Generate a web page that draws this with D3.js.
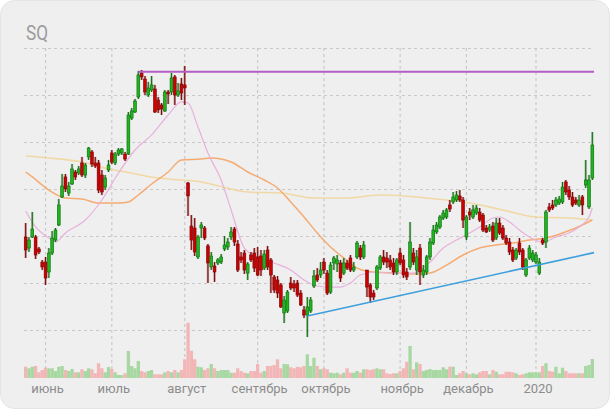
<!DOCTYPE html>
<html><head><meta charset="utf-8">
<script src="https://cdn.jsdelivr.net/npm/d3@7"></script>
<style>html,body{margin:0;padding:0;background:#fff;}svg{display:block;}</style>
</head><body>
<svg id="c" width="611" height="410"></svg>
<script>
const ticker = "SQ";
const tradingDays = {
 "2019-05":[23,24,28,29,30,31],
 "2019-06":[3,4,5,6,7,10,11,12,13,14,17,18,19,20,21,24,25,26,27,28],
 "2019-07":[1,2,3,5,8,9,10,11,12,15,16,17,18,19,22,23,24,25,26,29,30,31],
 "2019-08":[1,2,5,6,7,8,9,12,13,14,15,16,19,20,21,22,23,26,27,28,29,30],
 "2019-09":[3,4,5,6,9,10,11,12,13,16,17,18,19,20,23,24,25,26,27,30],
 "2019-10":[1,2,3,4,7,8,9,10,11,14,15,16,17,18,21,22,23,24,25,28,29,30,31],
 "2019-11":[1,4,5,6,7,8,11,12,13,14,15,18,19,20,21,22,25,26,27,29],
 "2019-12":[2,3,4,5,6,9,10,11,12,13,16,17,18,19,20,23,24,26,27,30,31],
 "2020-01":[2,3,6,7,8,9,10,13,14,15,16,17,21,22,23,24,27,28]
};
const monthKeys = ["2019-06","2019-07","2019-08","2019-09","2019-10","2019-11","2019-12","2020-01"];
const monthLabels = ["июнь","июль","август","сентябрь","октябрь","ноябрь","декабрь","2020"];

const open = [
64.89,63.72,64.89,64.89,63.62,62.23,62.23,61.17,63.19,64.57,
66.17,69.15,71.28,69.57,70.53,71.81,71.70,72.77,71.49,73.41,
73.94,72.77,72.77,71.49,70.21,72.02,73.83,72.77,73.72,73.83,
73.72,73.72,77.55,78.19,79.79,82.34,81.70,80.00,80.53,80.64,
79.47,78.94,78.30,80.32,80.32,81.92,80.00,81.17,81.07,70.64,
66.06,65.85,62.77,65.85,65.85,63.94,61.70,61.81,62.13,62.23,
63.62,63.83,64.89,65.74,64.15,62.77,63.19,61.06,62.98,63.19,
62.77,62.87,61.59,63.51,62.45,60.64,60.32,59.79,56.81,57.02,
60.00,59.89,60.00,58.93,57.13,56.59,57.02,59.68,60.85,60.85,
62.23,61.06,59.04,62.13,62.02,62.13,61.06,62.13,62.66,61.38,
62.77,63.72,62.77,61.38,59.79,58.93,59.47,61.59,62.77,62.66,
62.45,62.13,61.17,63.19,62.45,61.17,61.70,63.19,61.38,63.72,
60.85,61.17,62.77,64.25,65.43,65.96,66.91,67.02,68.30,68.62,
68.83,69.26,68.83,64.89,67.55,67.02,67.45,67.55,67.23,65.85,
65.64,66.06,64.79,66.38,65.85,64.79,64.36,63.51,62.66,64.25,
63.51,60.85,62.66,62.45,62.23,61.06,64.57,64.36,68.09,68.30,
68.30,68.51,68.62,70.75,69.89,69.15,68.83,68.30,69.15,70.43,
68.09,71.17];
const high = [
66.38,64.89,67.55,65.11,63.83,62.45,62.77,63.72,65.53,65.85,
68.94,71.60,71.60,70.75,72.66,72.02,72.45,73.41,72.77,74.47,
74.15,73.41,73.09,72.02,71.49,73.09,74.15,73.94,74.36,74.36,
73.94,78.19,78.62,79.58,82.56,82.66,82.02,81.39,82.02,81.07,
79.79,79.15,80.53,80.53,82.34,82.13,81.28,81.81,83.09,70.75,
67.23,66.91,65.11,66.49,66.06,64.15,63.30,62.23,62.66,63.08,
65.00,64.79,65.96,65.96,64.57,63.30,63.51,62.23,63.30,63.72,
63.83,63.51,63.51,63.94,62.66,60.85,60.74,60.00,58.62,59.25,
60.64,60.32,60.32,59.25,57.55,58.51,58.51,61.38,61.59,62.23,
62.66,61.38,62.23,62.87,62.98,62.45,62.66,62.45,62.98,62.23,
64.47,64.04,64.47,61.38,60.00,59.25,61.91,62.98,63.51,63.30,
62.98,62.66,62.66,63.72,62.98,61.59,66.49,63.72,63.51,64.15,
61.91,62.98,64.79,66.17,66.49,67.23,67.77,67.98,68.83,69.68,
69.79,69.89,69.15,67.23,67.98,68.30,68.30,67.98,67.45,66.17,
66.28,66.49,66.91,66.91,66.17,65.11,64.79,63.83,63.72,64.79,
63.72,62.66,64.04,63.51,63.30,62.66,64.79,67.77,68.51,68.83,
69.15,69.26,70.75,70.96,70.32,69.68,69.15,69.36,69.36,73.09,
71.49,76.06];
const low = [
62.66,63.30,64.79,62.55,63.08,61.38,59.79,60.53,62.98,64.36,
66.06,69.04,69.68,69.26,70.43,70.96,71.49,71.28,71.17,73.09,
72.34,72.23,69.57,69.36,69.89,71.81,72.66,72.55,73.51,73.62,
72.98,73.62,77.34,78.09,79.58,81.60,80.00,79.79,80.32,78.09,
78.09,77.87,78.19,79.04,80.00,78.94,79.79,79.47,78.94,67.13,
63.51,62.87,62.55,64.79,64.57,60.00,61.38,60.11,61.91,62.02,
63.40,63.51,64.57,63.94,61.17,62.13,60.96,60.32,62.23,61.17,
60.74,60.74,61.38,61.38,58.93,58.93,58.40,57.34,55.74,56.81,
59.25,59.04,58.51,57.55,56.27,54.25,56.81,59.47,60.11,60.53,
60.96,58.72,58.83,61.38,61.17,60.11,60.85,61.38,61.17,61.17,
62.55,62.45,62.55,58.51,57.87,58.19,59.25,61.38,61.91,61.59,
61.38,60.85,60.85,61.91,60.53,60.32,61.38,61.91,60.85,59.79,
60.53,60.85,62.45,64.04,65.21,65.74,66.70,66.81,67.55,68.40,
68.62,68.62,65.85,64.57,66.70,66.81,67.23,66.49,65.43,65.32,
65.43,64.36,64.57,65.11,64.57,64.04,62.98,62.23,62.45,62.98,
61.38,60.64,62.45,62.23,62.02,60.85,64.04,63.72,67.55,67.77,
68.09,68.30,68.40,69.36,68.83,68.09,68.30,68.09,67.23,70.11,
67.87,70.96];
const close = [
63.51,64.57,65.74,62.98,63.30,61.70,60.53,63.19,64.79,65.64,
68.30,70.32,70.00,70.32,72.13,71.28,72.13,71.49,72.55,74.36,
72.66,72.45,69.89,69.68,71.17,72.55,72.87,73.72,74.15,74.26,
73.19,77.87,78.30,79.36,82.13,81.92,80.32,80.75,81.07,78.19,
78.41,78.51,80.32,80.11,81.81,80.00,80.43,80.21,80.75,69.26,
64.57,63.30,64.89,66.17,64.79,62.13,62.87,61.17,62.45,62.77,
64.04,64.36,65.43,64.36,61.38,62.45,61.38,62.02,62.45,61.59,
60.85,61.38,63.08,61.70,60.85,59.25,58.93,57.45,58.19,59.04,
59.47,59.47,58.72,57.66,56.59,57.45,58.19,60.74,60.32,61.38,
61.38,58.93,61.91,62.66,62.45,60.53,62.13,61.59,61.38,61.70,
64.25,62.77,64.04,59.57,58.51,58.51,61.70,62.77,62.23,62.23,
61.70,61.17,62.45,62.13,60.85,60.64,64.36,62.23,62.77,61.17,
61.38,62.77,64.36,65.64,66.17,67.02,67.45,67.77,67.87,69.15,
69.36,68.83,66.70,67.02,67.23,67.77,67.98,66.70,65.64,65.43,
65.96,64.57,66.38,65.32,64.79,64.25,63.30,62.45,63.51,63.30,
61.70,62.45,63.72,63.19,62.98,62.23,64.25,67.55,67.77,67.98,
68.83,68.94,70.21,69.68,69.15,68.30,68.51,68.83,68.30,70.96,
70.96,74.68];
const volume = [
7.9,6.8,7.9,8.4,4.0,5.6,7.2,6.8,6.8,4.9,
7.9,8.4,5.6,4.9,6.3,4.0,4.0,6.1,4.9,6.8,
6.1,3.3,10.3,6.8,4.0,7.7,6.3,4.0,2.1,2.1,
3.3,18.9,8.4,6.8,11.9,4.9,4.0,4.9,5.6,2.6,
2.6,2.6,4.0,4.9,4.0,5.6,4.0,5.6,13.1,38.7,
19.1,13.1,7.9,7.5,5.6,6.8,9.8,6.8,4.9,5.6,
5.6,5.6,3.7,3.7,6.8,4.9,3.7,3.3,4.9,4.9,
9.8,3.7,4.9,8.4,8.4,9.1,13.1,6.8,9.8,9.6,
7.5,6.8,7.9,7.5,8.4,16.6,8.4,14.2,8.4,6.1,
6.8,6.1,3.7,3.3,3.7,2.6,3.7,6.8,3.7,3.7,
4.9,3.7,6.1,6.1,5.6,6.1,6.8,6.1,6.1,3.3,
2.8,3.3,3.3,4.9,6.8,11.4,22.4,6.1,11.0,9.8,
4.9,5.6,6.3,5.6,5.6,5.6,7.5,6.1,7.9,7.9,
2.1,3.3,4.9,3.3,2.6,3.3,2.6,4.0,4.9,4.9,
2.6,5.6,4.4,2.6,2.6,4.4,4.4,4.0,3.3,2.1,
2.6,3.3,4.0,4.0,4.0,4.0,8.4,10.3,4.9,4.4,
7.9,3.3,7.2,4.9,3.3,3.3,3.3,3.3,3.3,8.4,
9.1,13.3];

// moving averages (day index -> value)
const maShortIdx = [0,3,7,9,12,18,23,28,33,38,43,47,49,52,55,59,62,66,70,75,80,84,88,91,95,98,101,106,110,117,122,126,130,134,137,141,143,146,149,152,156,160,164,167,170,171];
const maShortVal = [67.66,65.96,64.79,64.36,65.32,66.70,68.83,71.70,74.15,75.75,77.87,79.26,79.15,76.60,73.83,70.96,67.77,63.72,62.77,62.13,61.38,60.32,59.68,59.57,59.57,60.00,60.85,61.17,61.06,61.06,62.23,63.72,64.57,65.32,65.96,66.91,67.02,66.49,65.64,64.89,64.36,64.89,65.32,65.96,67.02,67.98];
const maMidIdx = [0,2,7,12,17,22,28,31,34,38,43,47,53,56,62,67,72,76,80,84,88,92,96,100,105,112,117,122,127,132,137,142,147,152,157,162,166,171];
const maMidVal = [71.81,71.28,69.89,69.04,68.94,68.51,68.51,68.62,69.36,70.53,71.81,73.09,73.19,73.30,72.87,71.81,70.96,70.11,68.62,67.02,65.32,63.83,62.66,61.59,61.17,61.06,60.96,61.06,61.91,62.98,63.72,64.04,64.25,64.57,64.79,65.32,65.85,66.70];
const maLongIdx = [0,7,17,25,32,38,43,53,57,67,77,87,97,107,114,124,134,144,154,164,171];
const maLongVal = [73.51,73.30,72.87,72.13,71.70,71.28,71.06,70.75,70.43,69.68,69.57,69.04,69.04,69.36,69.26,68.94,68.51,67.77,67.02,66.91,66.70];

// drawn levels
const resistanceStart = "2019-07-12";
const resistanceLevel = 82.48;
const supportStart = "2019-09-24";
const supportStartValue = 56.49;
const supportEnd = "2020-01-28";
const supportEndValue = 63.19;

const dates = [];
Object.entries(tradingDays).forEach(([ym, days]) => days.forEach(d => dates.push(ym + "-" + String(d).padStart(2, "0"))));
const candles = dates.map((d, i) => ({date: d, o: open[i], h: high[i], l: low[i], c: close[i], v: volume[i]}));

const W = 611, H = 410;
const svg = d3.select("#c");
svg.append("rect").attr("x", 0.5).attr("y", 0.5).attr("width", W - 2).attr("height", H - 2)
  .attr("rx", 14).attr("fill", "#efefef").attr("stroke", "#e4e4e4");

const x = d3.scaleBand().domain(dates).range([24, 594]).paddingInner(0.15).paddingOuter(0.075);
const bw = x.bandwidth();
const cx = d => x(d) + bw / 2;
const y = d3.scaleLinear().domain([55, 85]).range([330, 48]);
const yv = d3.scaleLinear().domain([0, 70]).range([378, 278]);

// grid
const grid = svg.append("g").attr("stroke", "#c9c9c9").attr("stroke-dasharray", "3,3").attr("fill", "none");
grid.selectAll("line.h").data(y.ticks(6)).join("line").attr("class", "h")
  .attr("x1", 24).attr("x2", 594).attr("y1", d => Math.round(y(d)) + 0.5).attr("y2", d => Math.round(y(d)) + 0.5);
const firstDays = monthKeys.map(k => dates.find(d => d.startsWith(k)));
grid.selectAll("line.v").data(firstDays).join("line").attr("class", "v")
  .attr("x1", d => cx(d)).attr("x2", d => cx(d)).attr("y1", 48).attr("y2", 378).attr("stroke-width", 1.2);

// volume
svg.append("g").selectAll("rect").data(candles).join("rect")
  .attr("x", d => cx(d.date) - x.step() / 2).attr("width", x.step())
  .attr("y", d => yv(d.v)).attr("height", d => yv(0) - yv(d.v))
  .attr("fill", d => d.c >= d.o ? "#a7d8a1" : "#f2b6b6");

// moving averages
const maLine = (idx, val) => idx.map((k, i) => [cx(dates[k]), y(val[i])]);
const lg = d3.line().curve(d3.curveMonotoneX);
svg.append("path").attr("d", lg(maLine(maLongIdx, maLongVal))).attr("fill", "none").attr("stroke", "#f1d9a6").attr("stroke-width", 1.6);
svg.append("path").attr("d", lg(maLine(maMidIdx, maMidVal))).attr("fill", "none").attr("stroke", "#f6ab72").attr("stroke-width", 1.5);
svg.append("path").attr("d", lg(maLine(maShortIdx, maShortVal))).attr("fill", "none").attr("stroke", "#e9b0dc").attr("stroke-width", 1.2);

// candles
const cg = svg.append("g");
const up = d => d.c >= d.o;
cg.selectAll("line.s").data(candles).join("line").attr("class", "s")
  .attr("x1", d => cx(d.date)).attr("x2", d => cx(d.date)).attr("y1", d => y(d.h)).attr("y2", d => y(d.l))
  .attr("stroke", d => up(d) ? "#3f8f3f" : "#8f2d2d").attr("stroke-opacity", 0.45).attr("stroke-width", 2.4);
cg.selectAll("line.w").data(candles).join("line").attr("class", "w")
  .attr("x1", d => cx(d.date)).attr("x2", d => cx(d.date)).attr("y1", d => y(d.h)).attr("y2", d => y(d.l))
  .attr("stroke", d => up(d) ? "#0d6b0d" : "#7a0808").attr("stroke-width", 1);
cg.selectAll("rect").data(candles).join("rect")
  .attr("x", d => x(d.date)).attr("width", bw)
  .attr("y", d => y(Math.max(d.o, d.c))).attr("height", d => Math.max(1, Math.abs(y(d.o) - y(d.c))))
  .attr("fill", d => up(d) ? "#1fb51f" : "#cc0000")
  .attr("stroke", d => up(d) ? "#0d6b0d" : "#7a0808").attr("stroke-width", 0.6);

// trend lines
svg.append("line").attr("x1", cx(resistanceStart)).attr("x2", 594).attr("y1", y(resistanceLevel)).attr("y2", y(resistanceLevel))
  .attr("stroke", "#b35ec4").attr("stroke-width", 2);
const sx1 = cx(supportStart), sx2 = cx(supportEnd);
const slope = (y(supportEndValue) - y(supportStartValue)) / (sx2 - sx1);
svg.append("line").attr("x1", sx1).attr("y1", y(supportStartValue)).attr("x2", 594).attr("y2", y(supportStartValue) + slope * (594 - sx1))
  .attr("stroke", "#3d9fdc").attr("stroke-width", 1.6);

// texts
svg.append("text").attr("x", 26).attr("y", 40).text(ticker)
  .attr("font-family", "Roboto, sans-serif").attr("font-size", 20).attr("fill", "#9b9b9b")
  .attr("textLength", 22).attr("lengthAdjust", "spacingAndGlyphs");
svg.append("g").selectAll("text").data(firstDays).join("text")
  .attr("x", (d, i) => cx(d) + 2).attr("y", 393).attr("text-anchor", "middle")
  .attr("font-family", "Roboto, sans-serif").attr("font-size", 13).attr("fill", "#8c8c8c")
  .text((d, i) => monthLabels[i]);
</script>
</body></html>
